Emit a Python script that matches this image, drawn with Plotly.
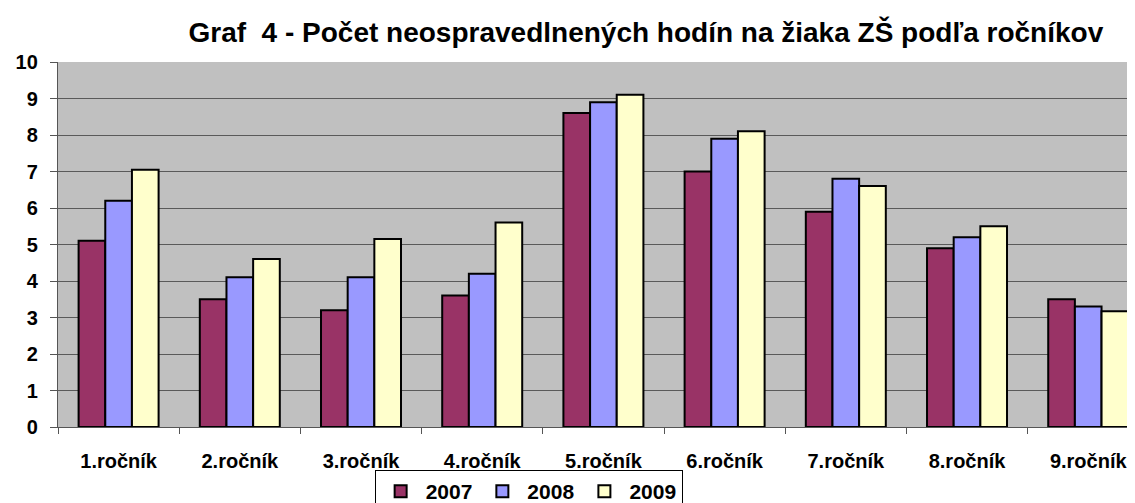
import plotly.graph_objects as go

# Data
rocniky = [
    "1.ročník", "2.ročník", "3.ročník", "4.ročník", "5.ročník",
    "6.ročník", "7.ročník", "8.ročník", "9.ročník",
]
hodiny_2007 = [5.1, 3.5, 3.2, 3.6, 8.6, 7.0, 5.9, 4.9, 3.5]
hodiny_2008 = [6.2, 4.1, 4.1, 4.2, 8.9, 7.9, 6.8, 5.2, 3.3]
hodiny_2009 = [7.05, 4.6, 5.15, 5.6, 9.1, 8.1, 6.6, 5.5, 3.17]
roky = ["2007", "2008", "2009"]

colors = ["#993366", "#9999ff", "#ffffcc"]
font_family = "Liberation Sans, Arial, sans-serif"

fig = go.Figure()

for rok, vals, col in zip(roky, [hodiny_2007, hodiny_2008, hodiny_2009], colors):
    fig.add_trace(
        go.Bar(
            x=rocniky,
            y=vals,
            name=rok,
            marker_color=col,
            marker_line_color="black",
            marker_line_width=2,
        )
    )

# the page body adds an 8px offset, so the figure is 8px smaller to fit the window
fig.update_layout(
    width=1127,
    height=495,
    margin=dict(l=50, r=0, t=54, b=76, autoexpand=False),
    paper_bgcolor="white",
    plot_bgcolor="#c0c0c0",
    barmode="group",
    bargap=0.34,
    bargroupgap=0,
    font=dict(family=font_family, color="black", size=15, weight="bold"),
    title=dict(
        text="Graf  4 - Počet neospravedlnených hodín na žiaka ZŠ podľa ročníkov",
        x=0.566,
        xanchor="center",
        y=0.9515,
        yanchor="middle",
        font=dict(size=28, family=font_family, weight="bold"),
    ),
    legend=dict(
        orientation="h",
        x=0.294,
        xanchor="left",
        y=-0.118,
        yanchor="top",
        bgcolor="white",
        bordercolor="black",
        borderwidth=1,
        font=dict(size=21, family=font_family, weight="bold"),
        itemwidth=40,
        tracegroupgap=0,
    ),
    showlegend=True,
)

fig.update_yaxes(
    range=[0, 10],
    dtick=1,
    showgrid=True,
    gridcolor="#5a5a5a",
    gridwidth=1.3,
    showline=True,
    linecolor="#555555",
    linewidth=1.3,
    ticks="outside",
    ticklen=7,
    tickcolor="#555555",
    tickfont=dict(size=20, family=font_family, weight="bold"),
    ticklabelstandoff=8,
    zeroline=False,
)

fig.update_xaxes(
    range=[-0.5, 8.386],
    showline=True,
    linecolor="#555555",
    linewidth=1.3,
    ticks="outside",
    tickson="boundaries",
    ticklen=6,
    tickcolor="#555555",
    tickfont=dict(size=20, family=font_family, weight="bold"),
    ticklabelstandoff=16,
)

fig.write_html("out.html")
